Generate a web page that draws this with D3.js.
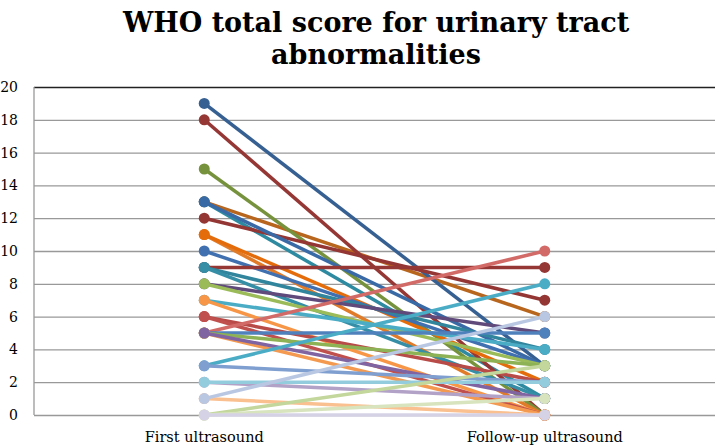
<!DOCTYPE html>
<html>
<head>
<meta charset="utf-8">
<script src="https://cdnjs.cloudflare.com/ajax/libs/d3/7.8.5/d3.min.js"></script>
<style>
  body { margin: 0; background: #fff; }
  svg text { font-family: "DejaVu Serif", "Liberation Serif", serif; fill: #000; }
</style>
</head>
<body>
<div id="chart"></div>
<script>
// WHO total score per patient at the two ultrasounds (one series per patient)
const categories = ["First ultrasound", "Follow-up ultrasound"];
const firstScores  = [13, 13, 19, 18, 15, 12, 11, 13, 11, 10, 9, 9, 9, 8, 8, 7, 7, 6, 6, 5, 5, 5, 5, 5, 3, 3, 2, 2, 1, 1, 0, 0, 0];
const followScores = [6, 1, 3, 0, 0, 7, 0, 3, 2, 3, 9, 4, 1, 5, 3, 4, 0, 2, 0, 10, 5, 3, 0, 1, 8, 2, 1, 2, 0, 6, 3, 1, 0];
const seriesColors = ["#B8651E", "#2E8AA0", "#376092", "#953735", "#76923C", "#943634", "#E07B2A", "#3A6AA6",
  "#E46C0A", "#4170B0", "#953735", "#31859C", "#358EA6", "#604A7B", "#9BBB59", "#4BACC6", "#F79646",
  "#B84A47", "#C0504D", "#D26A67", "#4F81BD", "#8DB255", "#F39A50", "#8064A2", "#4BACC6", "#7F9FD0",
  "#B3A2C7", "#93CDDD", "#FAC090", "#B9C7E3", "#C3D69B", "#D7E4BD", "#D6D2E6"];
const yTicks = [0, 2, 4, 6, 8, 10, 12, 14, 16, 18, 20];

const W = 716, H = 447;
const margin = { top: 87, right: 1, bottom: 32, left: 34 };
const width = W - margin.left - margin.right;
const height = H - margin.top - margin.bottom;

const svg = d3.select("#chart").append("svg")
  .attr("width", W).attr("height", H);

svg.append("text")
  .attr("x", 376).attr("y", 32)
  .attr("text-anchor", "middle")
  .style("font-size", "27px").style("font-weight", "bold")
  .text("WHO total score for urinary tract");
svg.append("text")
  .attr("x", 376).attr("y", 64)
  .attr("text-anchor", "middle")
  .style("font-size", "27px").style("font-weight", "bold")
  .text("abnormalities");

const g = svg.append("g").attr("transform", `translate(${margin.left},${margin.top})`);

const x = d3.scalePoint().domain(categories).range([0, width]).padding(0.5);
const y = d3.scaleLinear().domain([0, 20]).range([height, 0]);

// gridlines
g.append("g")
  .call(d3.axisLeft(y).tickValues(yTicks).tickSize(-width).tickFormat(""))
  .call(a => a.select(".domain").remove())
  .selectAll("line")
  .attr("stroke", d => d === 20 ? "#222" : "#999")
  .attr("stroke-width", 1.3);

// left axis line
g.append("line")
  .attr("x1", 0).attr("x2", 0).attr("y1", 0).attr("y2", height)
  .attr("stroke", "#999").attr("stroke-width", 1.3);

// y tick labels
g.append("g")
  .selectAll("text")
  .data(yTicks)
  .join("text")
  .attr("x", -16).attr("y", d => y(d) + 5)
  .attr("text-anchor", "end")
  .style("font-size", "14px")
  .text(d => d);

// x labels
g.append("g")
  .selectAll("text")
  .data(categories)
  .join("text")
  .attr("x", d => x(d)).attr("y", height + 27)
  .attr("text-anchor", "middle")
  .style("font-size", "14.5px")
  .text(d => d);

const series = firstScores.map((v, i) => ({
  color: seriesColors[i],
  values: [{ cat: categories[0], v: v }, { cat: categories[1], v: followScores[i] }]
}));

const line = d3.line().x(d => x(d.cat)).y(d => y(d.v));

const sg = g.selectAll(".series").data(series).join("g").attr("class", "series");
sg.append("path")
  .attr("d", d => line(d.values))
  .attr("fill", "none")
  .attr("stroke", d => d.color)
  .attr("stroke-width", 3.5);
sg.selectAll("circle")
  .data(d => d.values.map(p => ({ ...p, color: d.color })))
  .join("circle")
  .attr("cx", d => x(d.cat)).attr("cy", d => y(d.v))
  .attr("r", 5.5)
  .attr("fill", d => d.color);
</script>
</body>
</html>
